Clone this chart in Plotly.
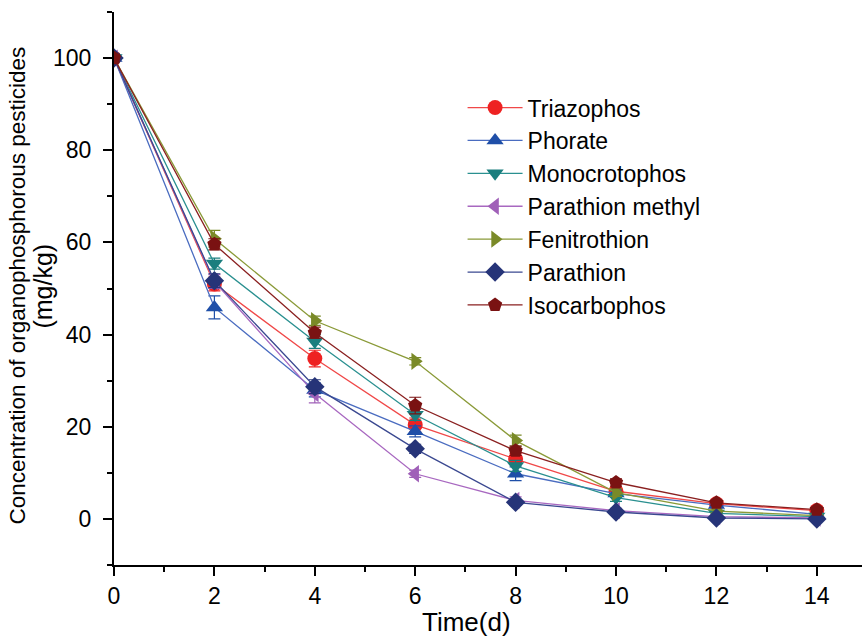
import plotly.graph_objects as go

days = [0, 2, 4, 6, 8, 10, 12, 14]

names = ["Triazophos", "Phorate", "Monocrotophos", "Parathion methyl",
         "Fenitrothion", "Parathion", "Isocarbophos"]

triazophos = [100, 51.0, 34.8, 20.4, 13.0, 6.0, 3.3, 1.8]
phorate = [100, 45.9, 28.0, 19.0, 9.8, 5.5, 3.0, 1.0]
monocrotophos = [100, 55.4, 38.5, 22.6, 11.5, 4.6, 1.2, 0.5]
parathion_methyl = [100, 51.5, 27.2, 9.8, 4.0, 1.8, 0.5, 0.2]
fenitrothion = [100, 60.8, 43.0, 34.2, 17.0, 5.7, 1.7, 0.7]
parathion = [100, 51.7, 28.7, 15.2, 3.6, 1.5, 0.2, 0.0]
isocarbophos = [100, 59.6, 40.4, 24.6, 14.8, 7.9, 3.5, 2.0]

err_triazophos = [0.8, 1.5, 1.8, 1.5, 1.2, 0.8, 0.5, 0.4]
err_phorate = [0.8, 2.5, 1.5, 1.2, 1.5, 0.8, 0.5, 0.4]
err_monocrotophos = [0.8, 1.2, 1.5, 1.2, 1.2, 0.8, 0.5, 0.4]
err_parathion_methyl = [0.8, 1.5, 2.0, 0.8, 0.8, 0.5, 0.4, 0.3]
err_fenitrothion = [0.8, 1.8, 1.0, 0.8, 1.2, 0.8, 0.4, 0.3]
err_parathion = [0.8, 1.5, 1.5, 1.0, 0.6, 0.5, 0.4, 0.3]
err_isocarbophos = [0.8, 1.2, 1.2, 1.8, 1.0, 0.8, 0.5, 0.4]

series = [triazophos, phorate, monocrotophos, parathion_methyl,
          fenitrothion, parathion, isocarbophos]
errors = [err_triazophos, err_phorate, err_monocrotophos, err_parathion_methyl,
          err_fenitrothion, err_parathion, err_isocarbophos]

marker_colors = ["#EE2222", "#1F4FA8", "#1A7E7E", "#A060B8",
                 "#7A8A28", "#263478", "#7A1212"]
line_colors = ["#F04848", "#4A6CC0", "#2A9090", "#A868C0",
               "#8A9A38", "#3A4890", "#8A2020"]
symbols = ["circle", "triangle-up", "triangle-down", "triangle-left",
           "triangle-right", "diamond", "pentagon"]

y_title_1 = "Concentration of organophosphorous pesticides"
y_title_2 = "(mg/kg)"
x_title = "Time(d)"

fig = go.Figure()
for name, ys, es, mc, lc, sym in zip(names, series, errors, marker_colors,
                                     line_colors, symbols):
    fig.add_trace(go.Scatter(
        x=days, y=ys, name=name, mode="lines+markers",
        line=dict(color=lc, width=1.3),
        marker=dict(symbol=sym, size=15, color=mc, line=dict(width=0)),
        error_y=dict(type="data", array=es, visible=True, color=mc,
                     thickness=1.2, width=6),
    ))

font = "Liberation Sans, Arial, sans-serif"
fig.update_layout(
    width=862, height=636,
    margin=dict(l=114, r=0, t=12, b=71),
    paper_bgcolor="white", plot_bgcolor="white",
    font=dict(family=font, color="black", size=23),
    showlegend=True,
    legend=dict(x=0.466, y=0.866, xanchor="left", yanchor="top",
                font=dict(size=23, family=font, color="black"),
                bgcolor="rgba(0,0,0,0)",
                tracegroupgap=0, itemwidth=55),
    xaxis=dict(
        range=[0, 14.9], showline=True, linecolor="black", linewidth=2,
        ticks="outside", ticklen=9, tickwidth=2, tickcolor="black",
        tickmode="array", tickvals=[0, 2, 4, 6, 8, 10, 12, 14],
        minor=dict(ticks="outside", ticklen=5, tickwidth=2, tickcolor="black",
                   tickvals=[1, 3, 5, 7, 9, 11, 13]),
        showgrid=False, zeroline=False, automargin=False,
        tickfont=dict(size=23, family=font, color="black"),
    ),
    yaxis=dict(
        range=[-10, 110], showline=True, linecolor="black", linewidth=2,
        ticks="outside", ticklen=9, tickwidth=2, tickcolor="black",
        tickmode="array", tickvals=[0, 20, 40, 60, 80, 100],
        minor=dict(ticks="outside", ticklen=5, tickwidth=2, tickcolor="black",
                   tickvals=[-10, 10, 30, 50, 70, 90, 110]),
        showgrid=False, zeroline=False, automargin=False,
        ticklabelstandoff=7,
        tickfont=dict(size=23, family=font, color="black"),
    ),
    annotations=[
        dict(text=y_title_1, xref="paper", yref="paper", x=-0.129, y=0.5045,
             xanchor="center", yanchor="middle", textangle=-90,
             showarrow=False, font=dict(size=22.5, family=font, color="black")),
        dict(text=y_title_2, xref="paper", yref="paper", x=-0.0955, y=0.5045,
             xanchor="center", yanchor="middle", textangle=-90,
             showarrow=False, font=dict(size=25, family=font, color="black")),
        dict(text=x_title, xref="paper", yref="paper", x=0.4706, y=-0.103,
             xanchor="center", yanchor="middle",
             showarrow=False, font=dict(size=26, family=font, color="black")),
    ],
)

fig.write_html("out.html", config={"displayModeBar": False},
               post_script="document.body.style.margin='0px';")
